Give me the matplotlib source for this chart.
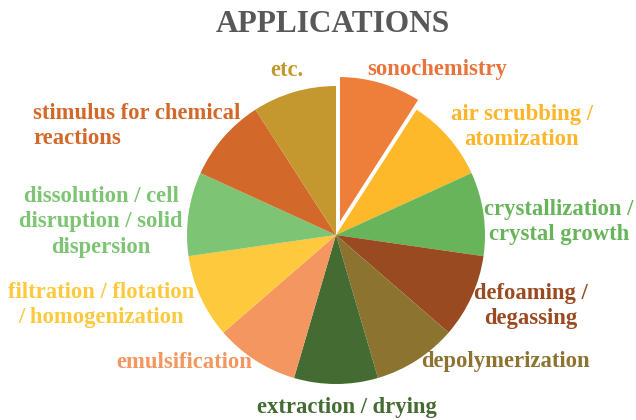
import matplotlib
matplotlib.use("Agg")
import matplotlib.pyplot as plt

labels = ["sonochemistry", "air scrubbing /\natomization", "crystallization /\ncrystal growth",
          "defoaming /\ndegassing", "depolymerization", "extraction / drying", "emulsification",
          "filtration / flotation\n/ homogenization", "dissolution / cell\ndisruption / solid\ndispersion",
          "stimulus for chemical\nreactions", "etc."]
values = [1, 1, 1, 1, 1, 1, 1, 1, 1, 1, 1]
colors = ["#EE7F3A", "#FDB92A", "#68B45A", "#9A4A20", "#8C7330", "#436B32", "#F4965F",
          "#FEC93C", "#7DC574", "#D2692A", "#C4982F"]
text_colors = ["#E9743A", "#FDB62A", "#68B45A", "#9A4A20", "#8C7330", "#436B32", "#F4965F",
               "#FEC93C", "#7DC574", "#D2692A", "#C4982F"]
explode = [0.07] + [0] * 10

W, H = 636, 420
fig = plt.figure(figsize=(W / 100, H / 100), dpi=100)
cx, cy, r = 336, 235, 149
ax = fig.add_axes([(cx - r) / W, (H - cy - r) / H, 2 * r / W, 2 * r / H])
wedges, _ = ax.pie(values, colors=colors, startangle=90, counterclock=False,
                   explode=explode, radius=1,
                   wedgeprops=dict(linewidth=0, clip_on=False))
wedges[0].set_edgecolor("white")
wedges[0].set_linewidth(1.5)
ax.set_xlim(-1, 1)
ax.set_ylim(-1, 1)
ax.axis("off")

font = dict(family="Liberation Serif", fontweight="bold")
fs = 16.3

def px(x, y):
    return x / W, 1 - y / H

fig.text(*px(333, 24), "APPLICATIONS", color="#58585A", fontsize=22.6, ha="center", va="center", **font)

# label positions (pixels) and alignment
pos = [(437, 70, "center"), (522, 127, "center"), (559, 222, "center"), (531, 306, "center"),
       (505, 361, "center"), (347, 408, "center"), (184, 363, "center"), (101, 305, "center"),
       (101, 222, "center"), (33, 126, "left"), (287, 70, "center")]
for (x, y, ha), lab, c in zip(pos, labels, text_colors):
    fig.text(*px(x, y), lab, color=c, fontsize=fs, ha=ha, va="center",
             multialignment=ha, linespacing=1.25, **font)

fig.savefig("out.png", dpi=100)
